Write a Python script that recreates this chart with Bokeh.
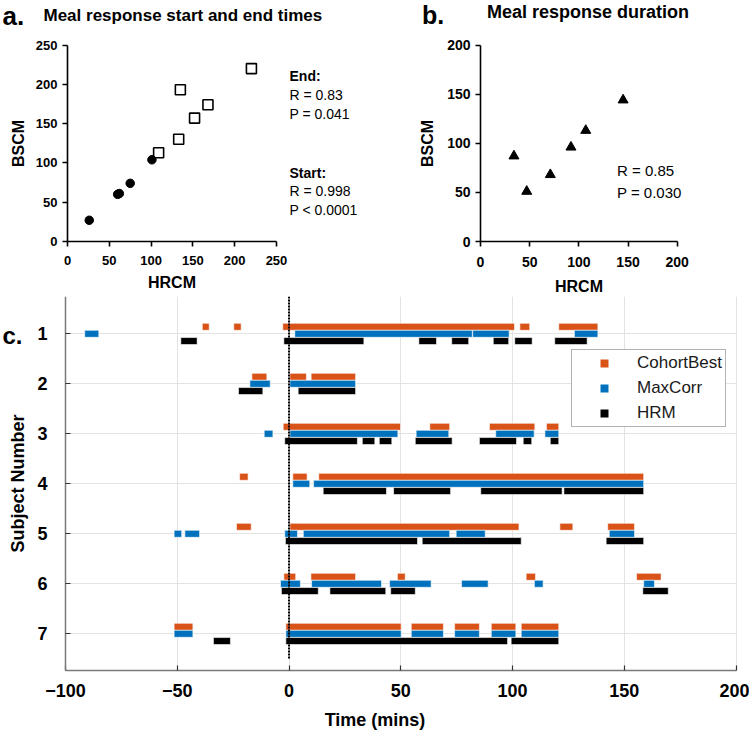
from bokeh.plotting import figure
from bokeh.layouts import column, row
from bokeh.models import Range1d, FixedTicker, Label, Legend, LegendItem, ColumnDataSource
from bokeh.embed import file_html
from bokeh.resources import INLINE

FONT = "Liberation Sans"
ORANGE = "#D95319"
BLUE = "#0072BD"
BLACK = "#000000"

# ---------------- data ----------------
# panel a: meal response start / end times (mins)
start_hrcm = [26, 60, 62, 75, 101]
start_bscm = [27, 60, 61, 74, 104]
end_hrcm = [109, 133, 135, 152, 168, 220]
end_bscm = [113, 130, 193, 157, 174, 220]
ticks_a = [0, 50, 100, 150, 200, 250]

# panel b: meal response duration (mins)
dur_hrcm = [34, 47, 71, 92, 107, 145]
dur_bscm = [87, 51, 68, 96, 113, 144]
ticks_b = [0, 50, 100, 150, 200]

# panel c: detected meal-response intervals (subject, start, end)
cohortbest = [
    (1, -38.8, -35.7), (1, -24.7, -21.4), (1, -2.8, 100.9), (1, 103.3, 107.7), (1, 120.7, 138.2),
    (2, -16.6, -9.9), (2, 0.4, 7.8), (2, 9.9, 29.8),
    (3, -2.6, 49.9), (3, 63.0, 71.9), (3, 89.7, 110.0), (3, 115.2, 120.7),
    (4, -22.1, -18.3), (4, 1.7, 8.1), (4, 13.3, 158.7),
    (5, -23.5, -16.9), (5, 0.4, 102.9), (5, 121.2, 127.0), (5, 142.6, 154.6),
    (6, -2.3, 3.0), (6, 9.8, 29.8), (6, 48.5, 52.0), (6, 106.1, 110.3), (6, 155.5, 166.5),
    (7, -51.4, -43.0), (7, -1.4, 50.2), (7, 54.7, 69.1), (7, 74.1, 85.2), (7, 90.5, 101.5), (7, 103.9, 120.7),
]
maxcorr = [
    (1, -91.4, -85.1), (1, 2.6, 82.0), (1, 82.2, 98.5), (1, 127.7, 138.2),
    (2, -17.5, -8.4), (2, 0.4, 29.8),
    (3, -11.1, -7.2), (3, 0.4, 48.7), (3, 56.9, 71.5), (3, 92.5, 109.7), (3, 114.5, 120.7),
    (4, 1.7, 9.3), (4, 11.0, 158.7),
    (5, -51.4, -48.0), (5, -46.6, -40.0), (5, -1.9, 3.8), (5, 6.4, 71.9), (5, 74.8, 87.8), (5, 143.3, 154.6),
    (6, -3.8, 5.1), (6, 10.1, 41.4), (6, 45.0, 63.6), (6, 77.2, 89.1), (6, 109.8, 113.7), (6, 158.7, 163.5),
    (7, -51.4, -43.0), (7, -1.4, 50.2), (7, 54.7, 69.1), (7, 74.1, 85.2), (7, 90.5, 101.5), (7, 103.9, 120.7),
]
hrm = [
    (1, -48.4, -41.1), (1, -2.3, 33.5), (1, 58.1, 66.0), (1, 72.8, 80.4), (1, 91.4, 98.3), (1, 101.0, 108.8), (1, 118.9, 133.4),
    (2, -22.6, -11.7), (2, 4.1, 29.8),
    (3, -1.9, 30.6), (3, 32.8, 38.4), (3, 40.4, 46.0), (3, 56.5, 73.0), (3, 85.2, 101.8), (3, 104.8, 108.6), (3, 116.9, 120.7),
    (4, 15.3, 43.6), (4, 46.8, 72.3), (4, 85.8, 122.2), (4, 123.0, 158.7),
    (5, -1.6, 57.5), (5, 59.6, 103.9), (5, 141.9, 158.7),
    (6, -3.4, 13.1), (6, 18.3, 43.3), (6, 45.5, 56.5), (6, 158.3, 169.7),
    (7, -33.8, -26.2), (7, -1.4, 97.8), (7, 99.4, 120.7),
]
subjects = [1, 2, 3, 4, 5, 6, 7]
time_ticks = [-100, -50, 0, 50, 100, 150, 200]
meal_onset = 0

# ---------------- layout geometry (page pixels) ----------------
# panel a: x=0 at px 67, 250 units = 209 px ; y=0 at px 241, 250 units = 196.5 px
AX0, AXS, AY0, AYS = 67.0, 209.0 / 250, 241.0, 196.5 / 250
def ax(px): return (px - AX0) / AXS
def ay(py): return (AY0 - py) / AYS

# panel b (figure starts at page x 380)
BX0, BXS, BY0, BYS = 480.0, 196.7 / 200, 241.0, 196.5 / 200
def bx(px): return (px - BX0) / BXS
def by(py): return (BY0 - py) / BYS

# panel c (figure starts at page y 296)
CX0, CXS, CY1, CYS = 288.5, 2.235, 333.3, 50.0
def cx(px): return (px - CX0) / CXS
def cy(py): return 1 + (py - CY1) / CYS


def style_axis(ax_, size):
    ax_.minor_tick_line_color = None
    ax_.axis_line_width = 1.6
    ax_.axis_line_color = "black"
    ax_.major_tick_line_width = 1.6
    ax_.major_tick_line_color = "black"
    ax_.major_tick_out = 5
    ax_.major_tick_in = 0
    ax_.major_label_text_font = FONT
    ax_.major_label_text_font_style = "bold"
    ax_.major_label_text_font_size = size
    ax_.major_label_text_color = "black"
    ax_.major_label_standoff = 5
    ax_.axis_label_text_font = FONT
    ax_.axis_label_text_font_style = "bold"
    ax_.axis_label_text_font_size = "16px"
    ax_.axis_label_text_color = "black"


def lab(p, x, y, text, size, bold=False, color="black"):
    p.add_layout(Label(x=x, y=y, text=text, text_font=FONT, text_font_size=size,
                       text_font_style="bold" if bold else "normal",
                       text_baseline="middle", text_align="left", text_color=color))


def clean(p):
    p.outline_line_color = None
    p.background_fill_color = "white"
    p.border_fill_color = "white"


# ---------------- panel a ----------------
pa = figure(width=380, height=296, x_range=Range1d(ax(0), ax(380)), y_range=Range1d(ay(296), ay(0)),
            output_backend="svg", toolbar_location=None,
            min_border_left=0, min_border_right=0, min_border_top=0, min_border_bottom=0,
            x_axis_label="HRCM", y_axis_label="BSCM")
clean(pa)
pa.grid.visible = False
for a_ in (pa.xaxis[0], pa.yaxis[0]):
    style_axis(a_, "13px")
    a_.ticker = FixedTicker(ticks=ticks_a)
    a_.bounds = (ticks_a[0], ticks_a[-1])
    a_.fixed_location = 0
pa.xaxis[0].major_label_standoff = 9
pa.xaxis[0].axis_label_standoff = 6
pa.yaxis[0].axis_label_standoff = 6
pa.scatter(end_hrcm, end_bscm, marker="square", size=10, line_color="black",
           line_width=1.6, fill_color="white")
pa.scatter(start_hrcm, start_bscm, marker="circle", size=8.5, color="black")
lab(pa, ax(2), ay(15), "a.", "26px", True)
lab(pa, ax(43), ay(14.5), "Meal response start and end times", "17px", True)
lab(pa, ax(289), ay(75), "End:", "14px", True)
lab(pa, ax(289), ay(94.5), "R = 0.83", "14px")
lab(pa, ax(289), ay(113.5), "P = 0.041", "14px")
lab(pa, ax(289), ay(172), "Start:", "14px", True)
lab(pa, ax(289), ay(190.5), "R = 0.998", "14px")
lab(pa, ax(289), ay(209.5), "P < 0.0001", "14px")

# ---------------- panel b ----------------
pb = figure(width=369, height=296, x_range=Range1d(bx(380), bx(749)), y_range=Range1d(by(296), by(0)),
            output_backend="svg", toolbar_location=None,
            min_border_left=0, min_border_right=0, min_border_top=0, min_border_bottom=0,
            x_axis_label="HRCM", y_axis_label="BSCM")
clean(pb)
pb.grid.visible = False
for a_ in (pb.xaxis[0], pb.yaxis[0]):
    style_axis(a_, "14px")
    a_.ticker = FixedTicker(ticks=ticks_b)
    a_.bounds = (ticks_b[0], ticks_b[-1])
    a_.fixed_location = 0
pb.xaxis[0].major_label_standoff = 10
pb.xaxis[0].axis_label_standoff = 8
pb.yaxis[0].axis_label_standoff = 8
pb.scatter(dur_hrcm, dur_bscm, marker="triangle", size=10, color="black")
lab(pb, bx(421.5), by(14), "b.", "25px", True)
lab(pb, bx(486.5), by(11.5), "Meal response duration", "18px", True)
lab(pb, bx(616.5), by(170), "R = 0.85", "15px")
lab(pb, bx(616.5), by(191.5), "P = 0.030", "15px")

# ---------------- panel c ----------------
pc = figure(width=749, height=447, x_range=Range1d(cx(0), cx(749)),
            y_range=Range1d(cy(670), cy(296)),
            output_backend="svg", toolbar_location=None,
            min_border_left=0, min_border_right=0, min_border_top=0, min_border_bottom=73,
            x_axis_label="Time (mins)", y_axis_label="Subject Number")
clean(pc)
pc.xaxis.ticker = FixedTicker(ticks=time_ticks)
pc.yaxis.ticker = FixedTicker(ticks=subjects)
pc.xaxis[0].bounds = (time_ticks[0], time_ticks[-1])
pc.yaxis[0].bounds = (cy(296), cy(670))
pc.yaxis[0].fixed_location = time_ticks[0]
pc.grid.grid_line_color = "#e3e3e3"
pc.grid.grid_line_width = 1
ygrid = pc.ygrid[0]
if "cross_bounds" in ygrid.properties():
    ygrid.cross_bounds = (time_ticks[0], time_ticks[-1])
else:
    ygrid.visible = False
    pc.segment(x0=[time_ticks[0]] * len(subjects), y0=subjects,
               x1=[time_ticks[-1]] * len(subjects), y1=subjects,
               line_color="#e3e3e3", line_width=1, level="underlay")
for a_ in (pc.xaxis[0], pc.yaxis[0]):
    a_.minor_tick_line_color = None
    a_.axis_line_color = "#7a7a7a"
    a_.axis_line_width = 1.5
    a_.major_tick_line_color = "#333333"
    a_.major_tick_line_width = 1.2
    a_.major_tick_in = 5
    a_.major_tick_out = 0
    a_.major_label_text_font = FONT
    a_.major_label_text_font_style = "bold"
    a_.major_label_text_font_size = "18px"
    a_.major_label_text_color = "black"
    a_.axis_label_text_font = FONT
    a_.axis_label_text_font_style = "bold"
    a_.axis_label_text_font_size = "18px"
    a_.axis_label_text_color = "black"
pc.xaxis[0].major_label_standoff = 13
pc.xaxis[0].axis_label_standoff = 10
pc.yaxis[0].major_label_standoff = 18
pc.yaxis[0].axis_label_standoff = 6

series = [("CohortBest", cohortbest, ORANGE, -0.14),
          ("MaxCorr", maxcorr, BLUE, 0.0),
          ("HRM", hrm, BLACK, 0.145)]
legend_items = []
for name, rows_, col, off in series:
    src = ColumnDataSource(dict(
        subject=[r[0] for r in rows_],
        start=[r[1] for r in rows_],
        end=[r[2] for r in rows_],
        y=[r[0] + off for r in rows_],
    ))
    pc.hbar(y="y", left="start", right="end", height=0.14, source=src,
            fill_color=col, line_color="white", line_width=0.6)
    key = pc.scatter(x="start", y="y", source=src, marker="square", size=8,
                     fill_color=col, line_color=None)
    key.visible = False
    legend_items.append(LegendItem(label=name, renderers=[key]))

pc.segment(x0=[meal_onset], y0=[cy(296)], x1=[meal_onset], y1=[7.5],
           line_color="black", line_width=2, line_dash="2 1")

legend = Legend(items=legend_items, location=(571, 243), padding=3, spacing=5,
                glyph_width=58, glyph_height=20, label_height=20, label_standoff=4,
                label_text_font=FONT, label_text_font_size="17px", label_text_color="#1a1a1a",
                border_line_color="#666666", border_line_width=1,
                background_fill_color="white", background_fill_alpha=1.0, margin=0)
pc.add_layout(legend)

lab(pc, cx(2), cy(335), "c.", "24px", True)

layout = column(row(pa, pb), pc)
open("out.html", "w").write(file_html(layout, INLINE))
